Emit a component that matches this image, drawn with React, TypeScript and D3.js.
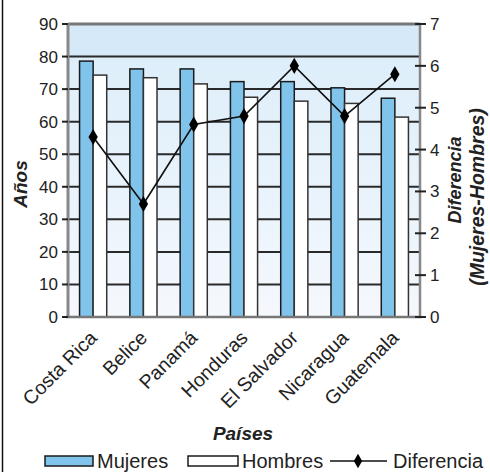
import React from "react";
import * as d3 from "d3";

const categories = ["Costa Rica", "Belice", "Panamá", "Honduras", "El Salvador", "Nicaragua", "Guatemala"];
const mujeres = [78.6, 76.2, 76.2, 72.3, 72.3, 70.4, 67.2];
const hombres = [74.3, 73.5, 71.6, 67.5, 66.3, 65.6, 61.4];
const diferencia = [4.3, 2.7, 4.6, 4.8, 6.0, 4.8, 5.8];
const leftTicks = [0, 10, 20, 30, 40, 50, 60, 70, 80, 90];
const rightTicks = [0, 1, 2, 3, 4, 5, 6, 7];

const W = 490, H = 472;
const L = 68, R = 420, T = 24, B = 317;
const FONT = "Liberation Sans, Arial, Helvetica, sans-serif";

export default function App() {
  const x = d3.scaleBand<string>().domain(categories).range([L, R]).padding(0);
  const y = d3.scaleLinear().domain([0, 90]).range([B, T]);
  const y2 = d3.scaleLinear().domain([0, 7]).range([B, T]);
  const barW = x.bandwidth() * 0.27;
  const cx = (c: string) => (x(c) as number) + x.bandwidth() / 2;
  const line = d3.line<number>().x((_, i) => cx(categories[i])).y((d) => y2(d));
  const diamond = d3.symbol().type(d3.symbolDiamond).size(75)() as string;
  const diamondSmall = d3.symbol().type(d3.symbolDiamond).size(60)() as string;

  return (
    <svg width={W} height={H} style={{ position: "absolute", left: 0, top: 0, background: "#fff" }} fontFamily={FONT}>
      <defs>
        <linearGradient id="bg" x1="0" y1="0" x2="0" y2="1">
          <stop offset="0" stopColor="#ddeefa" />
          <stop offset="1" stopColor="#f5f8fd" />
        </linearGradient>
      </defs>
      <line x1={2.5} x2={2.5} y1={0} y2={H} stroke="#111" strokeWidth={1.5} />
      {/* plot background */}
      <rect x={L} y={y(80)} width={R - L} height={B - y(80)} fill="url(#bg)" />
      <rect x={L} y={T} width={R - L} height={y(80) - T} fill="#d6e9f8" />
      {/* gridlines */}
      {leftTicks.filter((t) => t > 0 && t < 90).map((t) => (
        <line key={t} x1={L} x2={R} y1={y(t)} y2={y(t)} stroke="#2a2a2a" strokeWidth={2} />
      ))}
      <line x1={L} x2={R} y1={T} y2={T} stroke="#777" strokeWidth={3} />
      {/* bars */}
      {categories.map((c, i) => (
        <g key={c}>
          <rect x={cx(c) - barW} y={y(mujeres[i])} width={barW} height={B - y(mujeres[i])} fill="#80c4eb" stroke="#1a1a1a" strokeWidth={1.5} />
          <rect x={cx(c)} y={y(hombres[i])} width={barW} height={B - y(hombres[i])} fill="#ffffff" stroke="#333" strokeWidth={1.5} />
        </g>
      ))}
      {/* axes */}
      <line x1={L} x2={L} y1={T - 1} y2={B + 1} stroke="#888" strokeWidth={3} />
      <line x1={R} x2={R} y1={T - 1} y2={B + 1} stroke="#888" strokeWidth={2.5} />
      <line x1={L - 2} x2={R + 2} y1={B} y2={B} stroke="#777" strokeWidth={2.5} />
      {leftTicks.map((t) => (
        <g key={t}>
          <line x1={L - 6} x2={L} y1={y(t)} y2={y(t)} stroke="#222" strokeWidth={2} />
          <text x={L - 10} y={y(t)} dy="0.35em" textAnchor="end" fontSize={17} fill="#222">{t}</text>
        </g>
      ))}
      {rightTicks.map((t) => (
        <g key={t}>
          <line x1={R - 5} x2={R + 6} y1={y2(t)} y2={y2(t)} stroke="#222" strokeWidth={2} />
          <text x={R + 10} y={y2(t)} dy="0.35em" textAnchor="start" fontSize={17} fill="#222">{t}</text>
        </g>
      ))}
      {/* difference line */}
      <path d={line(diferencia) as string} fill="none" stroke="#111" strokeWidth={1.6} />
      {diferencia.map((d, i) => (
        <path key={i} d={diamond} transform={`translate(${cx(categories[i])},${y2(d)})`} fill="#000" />
      ))}
      {/* x labels */}
      {categories.map((c) => (
        <text key={c} transform={`translate(${cx(c) + 5},${B + 22}) rotate(-45)`} textAnchor="end" fontSize={19.5} fill="#222">{c}</text>
      ))}
      {/* axis titles */}
      <text transform={`translate(27,184) rotate(-90)`} textAnchor="middle" fontSize={19} fontWeight="bold" fontStyle="italic" fill="#222">Años</text>
      <text transform={`translate(461,180) rotate(-90)`} textAnchor="middle" fontSize={18} fontWeight="bold" fontStyle="italic" fill="#222">Diferencia</text>
      <text transform={`translate(484,197) rotate(-90)`} textAnchor="middle" fontSize={19.5} fontWeight="bold" fontStyle="italic" fill="#222">(Mujeres-Hombres)</text>
      <text x={243} y={440} textAnchor="middle" fontSize={19} fontWeight="bold" fontStyle="italic" fill="#222">Países</text>
      {/* legend */}
      <rect x={45} y={456} width={48} height={10} fill="#80c4eb" stroke="#1a1a1a" strokeWidth={1.5} />
      <text x={97} y={468} fontSize={20} fill="#222">Mujeres</text>
      <rect x={188} y={456} width={50} height={10} fill="#fff" stroke="#1a1a1a" strokeWidth={1.5} />
      <text x={242} y={468} fontSize={20} fill="#222">Hombres</text>
      <line x1={330} x2={387} y1={461} y2={461} stroke="#111" strokeWidth={1.6} />
      <path d={diamondSmall} transform="translate(358,461)" fill="#000" />
      <text x={393} y={468} fontSize={20} fill="#222">Diferencia</text>
    </svg>
  );
}
